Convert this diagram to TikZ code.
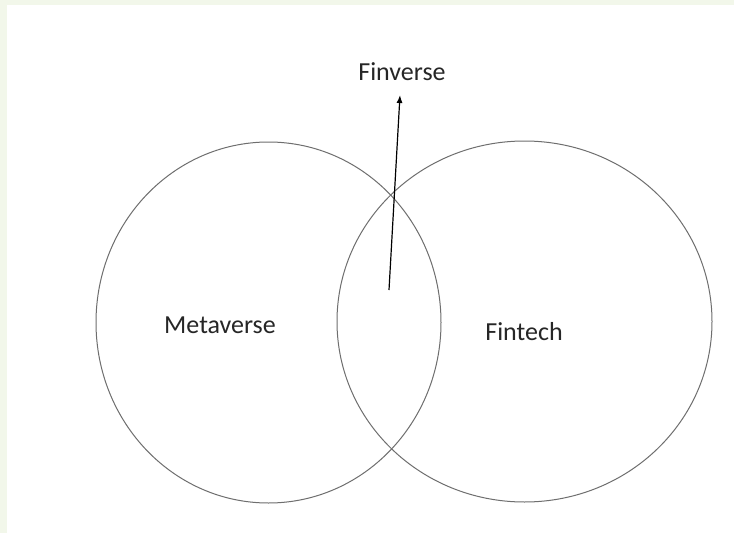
\documentclass[tikz,border=0pt]{standalone}
\usepackage{fontspec}
\setmainfont{Carlito}
\usetikzlibrary{arrows.meta}
\definecolor{bgstrip}{RGB}{242,247,234}
\definecolor{ringgray}{RGB}{110,110,110}
\tikzset{
  ring/.style={draw=ringgray, line width=1pt},
  lbl/.style={font=\fontsize{26}{30}\selectfont, text=black!85, inner sep=0pt},
  pointer/.style={draw=black, line width=1.2pt, -{Latex[length=8pt,width=6pt]}}
}
\begin{document}
\begin{tikzpicture}[x=1pt,y=-1pt]
\useasboundingbox (0,0) rectangle (734,533);
\fill[bgstrip] (0,0) rectangle (734,533);
\fill[white] (7,5) rectangle (734,533);
\draw[ring] (268.5,322.5) ellipse [x radius=172.5pt, y radius=180.5pt];
\draw[ring] (524.5,321.5) ellipse [x radius=187.5pt, y radius=180.5pt];
\node[lbl] (meta) at (220,325) {Metaverse};
\node[lbl] (fintech) at (524,332) {Fintech};
\node[lbl] (finverse) at (402,72) {Finverse};
\coordinate (src) at (389,290);
\coordinate (tip) at (400,95);
\draw[pointer] (src) -- (tip);
\end{tikzpicture}
\end{document}
